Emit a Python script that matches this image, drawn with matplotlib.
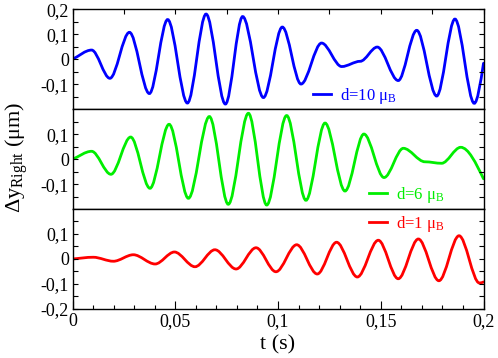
import numpy as np
import matplotlib
matplotlib.use('Agg')
import matplotlib.pyplot as plt
from matplotlib.path import Path
from matplotlib.patches import PathPatch
from matplotlib.lines import Line2D

plt.rcParams['font.family'] = ['Liberation Serif', 'DejaVu Serif']
plt.rcParams['mathtext.fontset'] = 'custom'
plt.rcParams['mathtext.rm'] = 'Liberation Serif'
plt.rcParams['mathtext.it'] = 'Liberation Serif:italic'

# extrema (and a few shape points), t in s, dy in um
t_d10 = [0.0, 0.0093, 0.0182, 0.0277, 0.0374, 0.0463, 0.0559, 0.0650, 0.0744,
         0.0828, 0.0929, 0.1021, 0.1112, 0.1212, 0.1310, 0.1400, 0.1483, 0.1585,
         0.1675, 0.1772, 0.1861, 0.1955, 0.2000]
y_d10 = [0.0, 0.037, -0.076, 0.108, -0.137, 0.159, -0.175, 0.181, -0.179,
         0.171, -0.153, 0.129, -0.099, 0.065, -0.029, -0.008, 0.049, -0.085,
         0.116, -0.147, 0.161, -0.176, -0.016]

t_d6 = [0.0, 0.0093, 0.0187, 0.0283, 0.0377, 0.0470, 0.0564, 0.0666, 0.0758,
        0.0856, 0.0945, 0.1042, 0.1136, 0.1229, 0.1326, 0.1418, 0.1516, 0.1610,
        0.1715, 0.1796, 0.1889, 0.2000]
y_d6 = [0.0, 0.032, -0.060, 0.089, -0.116, 0.140, -0.156, 0.171, -0.180,
        0.184, -0.183, 0.175, -0.164, 0.145, -0.127, 0.101, -0.073, 0.044,
        -0.010, -0.016, 0.048, -0.078]

t_d1 = [0.0, 0.0101, 0.0199, 0.0296, 0.0402, 0.0496, 0.0596, 0.0693, 0.0796,
        0.0893, 0.0990, 0.1091, 0.1191, 0.1285, 0.1386, 0.1488, 0.1585, 0.1683,
        0.1783, 0.1881, 0.1980, 0.2000]
y_d1 = [0.0, 0.007, -0.009, 0.017, -0.020, 0.028, -0.031, 0.037, -0.040,
        0.045, -0.051, 0.057, -0.060, 0.067, -0.072, 0.075, -0.079, 0.080,
        -0.087, 0.093, -0.096, -0.092]

labels = ['d=10 μ$_\\mathrm{B}$', 'd=6 μ$_\\mathrm{B}$', 'd=1 μ$_\\mathrm{B}$']
colors = ['#0000ff', '#00ee00', '#ff0000']

yticks_top = [0.2, 0.1, 0.0, -0.1]
ylabels_top = ['0,2', '0,1', '0', '-0,1']
yticks_mid = [0.1, 0.0, -0.1]
ylabels_mid = ['0,1', '0', '-0,1']
yticks_bot = [0.1, 0.0, -0.1, -0.2]
ylabels_bot = ['0,1', '0', '-0,1', '-0,2']
xticks = [0, 0.05, 0.1, 0.15, 0.2]
xlabels = ['0', '0,05', '0,1', '0,15', '0,2']


def smooth_path(ts, ys):
    # cubic hermite through the read points, flat at the extrema
    ts = np.asarray(ts)
    ys = np.asarray(ys)
    m = np.zeros(len(ts))
    m[0] = (ys[1] - ys[0]) / (ts[1] - ts[0])
    m[-1] = 1.5 * (ys[-1] - ys[-2]) / (ts[-1] - ts[-2])
    verts = [(ts[0], ys[0])]
    codes = [Path.MOVETO]
    for i in range(len(ts) - 1):
        dt = ts[i + 1] - ts[i]
        verts += [(ts[i] + dt / 3, ys[i] + m[i] * dt / 3),
                  (ts[i + 1] - dt / 3, ys[i + 1] - m[i + 1] * dt / 3),
                  (ts[i + 1], ys[i + 1])]
        codes += [Path.CURVE4] * 3
    return Path(verts, codes)


fig = plt.figure(figsize=(4.98, 3.58), dpi=100)
left, width, h = 0.1456, 0.8253, 0.2793
bottoms = [0.6947, 0.4154, 0.1369]
axes = [fig.add_axes([left, b, width, h]) for b in bottoms]

series = [(t_d10, y_d10), (t_d6, y_d6), (t_d1, y_d1)]
legend_pos = [(0.585, 0.133), (0.721, 0.143), (0.721, 0.85)]
ytick_sets = [(yticks_top, ylabels_top), (yticks_mid, ylabels_mid),
              (yticks_bot, ylabels_bot)]

for ax, (ts, ys), lab, col, lp, (yt, yl) in zip(axes, series, labels, colors,
                                                 legend_pos, ytick_sets):
    ax.add_patch(PathPatch(smooth_path(ts, ys), facecolor='none',
                           edgecolor=col, lw=2.0, capstyle='round'))
    ax.set_xlim(0, 0.2)
    ax.set_ylim(-0.2, 0.2)
    ax.set_yticks(yt)
    ax.set_yticklabels(yl)
    ax.set_yticks([0.15, 0.05, -0.05, -0.15], minor=True)
    ax.tick_params(axis='y', which='both', direction='in', left=True,
                   right=True, length=3.6, width=0.8, labelsize=13, pad=2.5)
    for s in ax.spines.values():
        s.set_linewidth(1.0)
    handle = Line2D([], [], color=col, lw=2.0)
    ax.legend([handle], [lab], loc='center left', bbox_to_anchor=lp,
              frameon=False, fontsize=12, handlelength=1.1,
              handletextpad=0.5, borderpad=0, borderaxespad=0,
              labelcolor=col)

# top panel: ticks on the top edge only
axes[0].set_xticks(np.arange(0, 0.2001, 0.025))
axes[0].tick_params(axis='x', direction='in', top=True, bottom=False,
                    labelbottom=False, length=3.6, width=0.8)
# middle panel: no x ticks
axes[1].tick_params(axis='x', bottom=False, top=False, labelbottom=False)
# bottom panel
axes[2].set_xticks(xticks)
axes[2].set_xticklabels(xlabels)
axes[2].set_xticks(np.arange(0, 0.2001, 0.01), minor=True)
axes[2].tick_params(axis='x', which='major', direction='in', length=6,
                    width=0.8, labelsize=13, pad=3)
axes[2].tick_params(axis='x', which='minor', direction='in', length=3,
                    width=0.8)
axes[2].set_xlabel('t (s)', fontsize=16, labelpad=4)

fig.text(0.034, 0.562, 'Δy$_\\mathrm{Right}$ (μm)', rotation=90,
         ha='center', va='center', fontsize=16)

fig.savefig('out.png', dpi=100)
